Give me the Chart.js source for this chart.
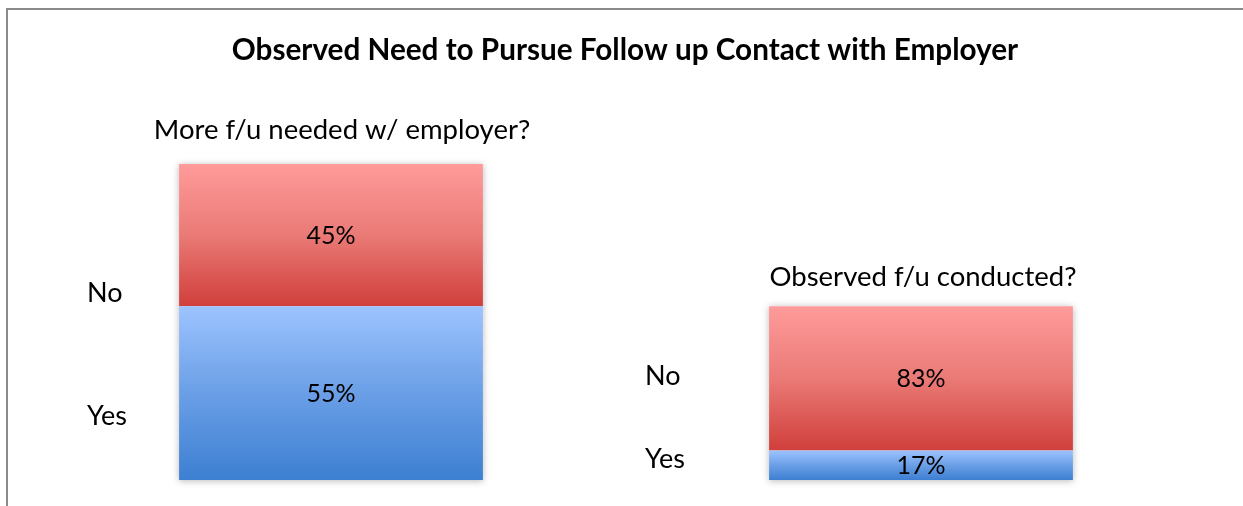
<!DOCTYPE html>
<html>
<head>
<meta charset="utf-8">
<script src="https://cdn.jsdelivr.net/npm/chart.js@4.4.1/dist/chart.umd.min.js"></script>
<style>
  html, body { margin: 0; padding: 0; background: #fff; }
  #wrap { width: 1243px; height: 506px; position: relative; }
</style>
</head>
<body>
<div id="wrap"><canvas id="chart" width="1243" height="506"></canvas></div>
<script>
const chartTitle = "Observed Need to Pursue Follow up Contact with Employer"
const groups = ["More f/u needed w/ employer?", "Observed f/u conducted?"]
const answers = ["Yes", "No"]
// percentages per group
const neededYes = [55, null]
const neededNo = [45, null]
const conductedYes = [null, 17]
const conductedNo = [null, 83]

const FONT = "Lato, 'Open Sans', sans-serif"

const palette = {
    Yes: ["#9dc3ff", "#6a9fe6", "#3d7fd2"],
    No: ["#ff9b9b", "#ea7a76", "#d03f3b"]
}

// gradient for each stacked segment, computed from the scale
function segmentFill(ctx) {
    const chart = ctx.chart
    const ds = ctx.dataset
    const v = ds.data[ctx.dataIndex]
    if (v == null || !chart.chartArea) return palette[ds.answer][0]
    let base = 0
    for (let i = 0; i < ctx.datasetIndex; i++) {
        const d = chart.data.datasets[i]
        if (d.yAxisID === ds.yAxisID && d.data[ctx.dataIndex] != null) base += d.data[ctx.dataIndex]
    }
    const scale = chart.scales[ds.yAxisID]
    const top = scale.getPixelForValue(base + v)
    const bottom = scale.getPixelForValue(base)
    const g = chart.ctx.createLinearGradient(0, top, 0, bottom)
    g.addColorStop(0, palette[ds.answer][0])
    g.addColorStop(0.5, palette[ds.answer][1])
    g.addColorStop(1, palette[ds.answer][2])
    return g
}

const textPlugin = {
    id: "texts",
    beforeDatasetsDraw(chart) {
        const c = chart.ctx
        // soft shadow behind each full bar
        const metas = chart.getSortedVisibleDatasetMetas()
        for (let i = 0; i < groups.length; i++) {
            let top = Infinity, bottom = -Infinity, left = 0, right = 0
            metas.forEach(m => {
                const el = m.data[i]
                if (!el || chart.data.datasets[m.index].data[i] == null) return
                top = Math.min(top, el.y, el.base)
                bottom = Math.max(bottom, el.y, el.base)
                left = el.x - el.width / 2
                right = el.x + el.width / 2
            })
            if (top === Infinity) continue
            c.save()
            c.shadowColor = "rgba(0,0,0,0.28)"
            c.shadowBlur = 7
            c.shadowOffsetY = 1
            c.fillStyle = "#fff"
            c.fillRect(left, top, right - left, bottom - top)
            c.restore()
        }
    },
    afterDatasetsDraw(chart) {
        const c = chart.ctx
        c.save()
        c.fillStyle = "#000"
        c.textAlign = "center"
        c.textBaseline = "middle"
        c.font = "25px " + FONT
        chart.getSortedVisibleDatasetMetas().forEach(m => {
            const ds = chart.data.datasets[m.index]
            m.data.forEach((el, i) => {
                if (ds.data[i] == null) return
                c.fillText(ds.data[i] + "%", el.x, (el.y + el.base) / 2 + 1)
            })
        })
        c.restore()
    },
    afterDraw(chart) {
        const c = chart.ctx
        const xs = chart.scales.x
        c.save()
        // frame
        c.strokeStyle = "#8a8a8a"
        c.lineWidth = 2
        c.beginPath()
        c.moveTo(7, 506)
        c.lineTo(7, 9)
        c.lineTo(1243, 9)
        c.stroke()

        c.fillStyle = "#000"
        c.textBaseline = "middle"
        c.textAlign = "center"
        c.font = "bold 29.7px " + FONT
        c.fillText(chartTitle, 625, 50)

        c.font = "27.5px " + FONT
        c.fillText(groups[0], xs.getPixelForValue(0) + 11, 130)
        c.fillText(groups[1], xs.getPixelForValue(1) + 2, 277)

        c.font = "27px " + FONT
        c.textAlign = "left"
        c.fillText(answers[1], 87, 293)
        c.fillText(answers[0], 87, 416)
        c.fillText(answers[1], 645, 376)
        c.fillText(answers[0], 645, 459)
        c.restore()
    }
}

const barStyle = {
    backgroundColor: segmentFill,
    borderWidth: 0,
    categoryPercentage: 1,
    barPercentage: 0.515,
    stack: "s"
}

new Chart(document.getElementById("chart"), {
    type: "bar",
    data: {
        labels: groups,
        datasets: [
            { label: "Yes", answer: "Yes", data: neededYes, yAxisID: "y", ...barStyle },
            { label: "No", answer: "No", data: neededNo, yAxisID: "y", ...barStyle },
            { label: "Yes", answer: "Yes", data: conductedYes, yAxisID: "y2", ...barStyle },
            { label: "No", answer: "No", data: conductedNo, yAxisID: "y2", ...barStyle }
        ]
    },
    options: {
        responsive: false,
        animation: false,
        layout: { padding: { left: 36, right: 27, top: 164, bottom: 26 } },
        plugins: {
            legend: { display: false },
            title: { display: false },
            tooltip: { enabled: false }
        },
        scales: {
            x: { stacked: true, display: false },
            y: { stacked: true, display: false, min: 0, max: 100 },
            // the second bar splits only the "Yes" share of the first one
            y2: { stacked: true, display: false, min: 0, max: 100 * 100 / neededYes[0] }
        }
    },
    plugins: [textPlugin]
})
</script>
</body>
</html>
